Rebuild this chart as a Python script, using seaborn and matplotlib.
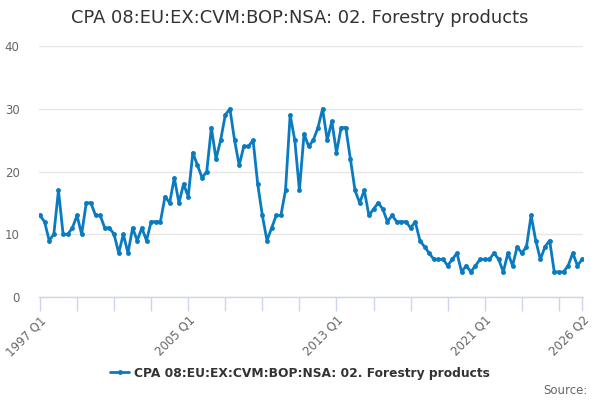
import matplotlib
matplotlib.use("Agg")
import matplotlib.pyplot as plt
import seaborn as sns
import pandas as pd
import numpy as np

title = "CPA 08:EU:EX:CVM:BOP:NSA: 02. Forestry products"
series_name = "CPA 08:EU:EX:CVM:BOP:NSA: 02. Forestry products"

years = list(range(1997, 2027))
quarters = [f"{y} Q{q}" for y in years for q in range(1, 5)][:118]

values = [
    13, 12, 9, 10,   17, 10, 10, 11,   13, 10, 15, 15,   13, 13, 11, 11,
    10, 7, 10, 7,    11, 9, 11, 9,     12, 12, 12, 16,   15, 19, 15, 18,
    16, 23, 21, 19,  20, 27, 22, 25,   29, 30, 25, 21,   24, 24, 25, 18,
    13, 9, 11, 13,   13, 17, 29, 25,   17, 26, 24, 25,   27, 30, 25, 28,
    23, 27, 27, 22,  17, 15, 17, 13,   14, 15, 14, 12,   13, 12, 12, 12,
    11, 12, 9, 8,    7, 6, 6, 6,       5, 6, 7, 4,       5, 4, 5, 6,
    6, 6, 7, 6,      4, 7, 5, 8,       7, 8, 13, 9,      6, 8, 9, 4,
    4, 4, 5, 7,      5, 6,
]

tick_labels = ["1997 Q1", "2005 Q1", "2013 Q1", "2021 Q1", "2026 Q2"]

df = pd.DataFrame({"period": quarters, "value": values})
df["idx"] = np.arange(len(df))

sns.set_theme(style="white")
plt.rcParams["font.family"] = ["DejaVu Sans"]

fig = plt.figure(figsize=(6, 4), dpi=100)
ax = fig.add_axes([39/600, 1 - 297/400, (583 - 39)/600, (297 - 46)/400])

color = "#0a7bc0"
sns.lineplot(data=df, x="idx", y="value", ax=ax, color=color, linewidth=2,
             marker="o", markersize=3.5, markeredgewidth=0, label=series_name)

n = len(df)
ax.set_xlim(-0.2, n - 1 + 0.2)
ax.set_ylim(0, 40)
ax.set_yticks([0, 10, 20, 30, 40])
ax.yaxis.grid(True, color="#e6e6e6", linewidth=1)
ax.xaxis.grid(False)
for s in ["top", "right", "left"]:
    ax.spines[s].set_visible(False)
ax.spines["bottom"].set_color("#ccd6eb")
ax.spines["bottom"].set_linewidth(1)

major = list(range(0, n, 8)) + [n - 1]
ax.set_xticks(major)
lab_map = {q: q for q in tick_labels}
ax.set_xticklabels([lab_map.get(quarters[i], "") for i in major],
                   rotation=45, ha="right", rotation_mode="anchor",
                   color="#666666", fontsize=8.5)
ax.tick_params(axis="x", length=10, color="#ccd6eb", width=1, pad=2, bottom=True)
ax.tick_params(axis="y", length=0, labelcolor="#666666", labelsize=8.5, pad=14)
ax.set_xlabel("")
ax.set_ylabel("")

fig.text(0.5, 1 - 18/400, title, ha="center", va="center", fontsize=12.9, color="#333333")

leg = ax.legend(loc="center", bbox_to_anchor=(0.5, 1 - 373/400), bbox_transform=fig.transFigure,
                frameon=False, prop={"weight": "bold", "size": 8.8}, handlelength=1.5,
                handletextpad=0.4, labelcolor="#333333")

fig.text(588/600, 1 - 390/400, "Source:", ha="right", va="center", fontsize=8.5, color="#666666")

fig.savefig("out.png", dpi=100)
